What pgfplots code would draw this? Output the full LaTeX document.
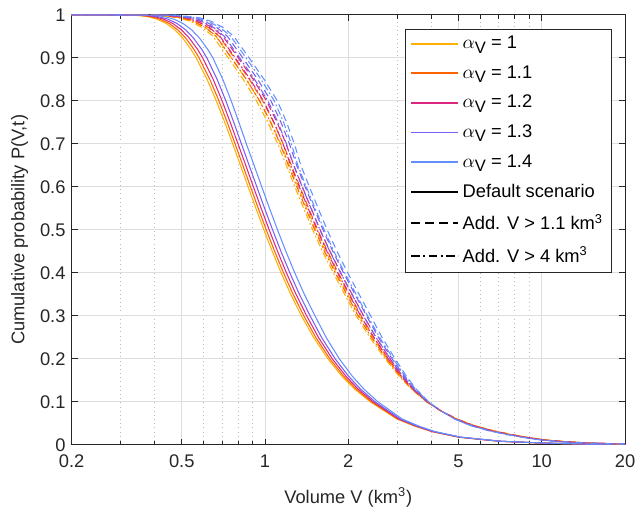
\documentclass[border=0pt]{standalone}
\usepackage{pgfplots}
\pgfplotsset{compat=1.18}
\usepackage{pgfplotstable}
\usepackage{fontspec}
\setmainfont{Liberation Sans}

\definecolor{cA}{HTML}{FFB000}
\definecolor{cB}{HTML}{FE6100}
\definecolor{cC}{HTML}{DC267F}
\definecolor{cD}{HTML}{785EF0}
\definecolor{cE}{HTML}{648FFF}
\definecolor{axgray}{gray}{0.15}
\definecolor{gridgray}{gray}{0.87}

% default scenario (solid); columns: volume for alpha_V = 1, 1.1, 1.2, 1.3, 1.4
\pgfplotstableread{
P       a10     a11     a12     a13     a14
1.0000  0.2     0.2     0.2     0.2     0.2
0.9995  0.3215  0.3295  0.3396  0.3516  0.3697
0.998   0.3534  0.3622  0.3733  0.3865  0.4064
0.995   0.3810  0.3905  0.4024  0.4167  0.4382
0.990   0.4068  0.4170  0.4297  0.4449  0.4678
0.980   0.4393  0.4503  0.4640  0.4805  0.5052
0.965   0.4724  0.4842  0.4990  0.5167  0.5433
0.946   0.5041  0.5167  0.5324  0.5514  0.5797
0.920   0.5396  0.5531  0.5700  0.5902  0.6205
0.900   0.5636  0.5777  0.5953  0.6164  0.6481
0.850   0.6172  0.6316  0.6496  0.6712  0.7036
0.800   0.6668  0.6815  0.6998  0.7218  0.7548
0.750   0.7153  0.7302  0.7488  0.7712  0.8047
0.700   0.7644  0.7797  0.7988  0.8217  0.8561
0.650   0.8152  0.8315  0.8519  0.8763  0.9130
0.600   0.8689  0.8863  0.9080  0.9341  0.9732
0.550   0.9270  0.9455  0.9687  0.9965  1.0382
0.500   0.9908  1.0106  1.0354  1.0651  1.1097
0.450   1.0622  1.0834  1.1100  1.1419  1.1897
0.400   1.1437  1.1666  1.1952  1.2295  1.2809
0.350   1.2390  1.2638  1.2948  1.3319  1.3877
0.300   1.3539  1.3810  1.4148  1.4554  1.5164
0.250   1.4980  1.5256  1.5599  1.6010  1.6628
0.200   1.6879  1.7161  1.7512  1.7934  1.8567
0.160   1.8953  1.9237  1.9594  2.0020  2.0659
0.130   2.1065  2.1347  2.1697  2.2118  2.2750
0.100   2.4017  2.4281  2.4613  2.5009  2.5602
0.079   2.700   2.7248  2.7556  2.7929  2.8485
0.060   3.000   3.0225  3.0507  3.0843  3.135
0.043   3.500   3.5203  3.5459  3.5767  3.6225
0.031   4.000   4.0188  4.042   4.070   4.112
0.018   5.000   5.020   5.045   5.075   5.120
0.0085  7.000   7.023   7.053   7.088   7.140
0.0043  10.00   10.03   10.08   10.13   10.20
0.0022  14.00   14.05   14.11   14.18   14.28
0.0011  20      20      20      20      20
}\solid

% additional V > 1.1 km^3 (dashed)
\pgfplotstableread{
P       a10     a11     a12     a13     a14
1.000   0.2     0.2     0.2     0.2     0.2
0.999   0.420   0.4312  0.4452  0.4620  0.4872
0.993   0.500   0.5134  0.5300  0.5500  0.5800
0.985   0.550   0.5647  0.5830  0.6050  0.6380
0.970   0.610   0.6263  0.6466  0.6710  0.7076
0.950   0.665   0.6828  0.7049  0.7315  0.7714
0.900   0.755   0.7752  0.8003  0.8305  0.8758
0.850   0.855   0.8778  0.9063  0.9405  0.9918
0.800   0.955   0.9805  1.0123  1.0505  1.1078
0.750   1.050   1.0746  1.1051  1.1419  1.1970
0.700   1.140   1.1628  1.1913  1.2255  1.2768
0.650   1.225   1.2455  1.2709  1.3016  1.3475
0.600   1.315   1.3370  1.3643  1.3972  1.4465
0.550   1.415   1.4386  1.4681  1.5034  1.5565
0.500   1.525   1.5505  1.5822  1.6203  1.6775
0.450   1.655   1.6826  1.7171  1.7584  1.8205
0.400   1.810   1.8402  1.8779  1.9231  1.9910
0.350   1.990   2.0232  2.0646  2.1144  2.1890
0.300   2.190   2.2266  2.2721  2.3269  2.4090
0.250   2.440   2.4746  2.5178  2.5696  2.6474
0.200   2.760   2.7923  2.8326  2.8809  2.9532
0.160   3.080   3.1068  3.1401  3.1801  3.2402
0.130   3.400   3.4198  3.4447  3.4745  3.5190
0.100   3.850   3.8596  3.8716  3.8862  3.9078
0.080   4.300   4.300   4.300   4.300   4.300
0.060   4.950   4.9335  4.9129  4.8881  4.8510
0.045   5.700   5.6715  5.6359  5.5931  5.5290
0.033   6.700   6.6553  6.5995  6.5325  6.4320
0.024   7.800   7.748   7.683   7.605   7.488
0.017   9.000   8.940   8.865   8.775   8.640
0.011   10.50   10.430  10.343  10.238  10.080
0.007   12.50   12.417  12.313  12.188  12.000
0.004   15.50   15.396  15.268  15.113  14.880
0.002   20      20      20      20      20
}\addA

% additional V > 4 km^3 (dash-dot)
\pgfplotstableread{
P       a10     a11     a12     a13     a14
1.000   0.2     0.2     0.2     0.2     0.2
0.999   0.4095  0.4204  0.4341  0.4505  0.4750
0.993   0.4875  0.5006  0.5168  0.5363  0.5655
0.985   0.5363  0.5506  0.5684  0.5899  0.6221
0.970   0.5948  0.6106  0.6304  0.6542  0.6899
0.950   0.6484  0.6657  0.6873  0.7132  0.7521
0.900   0.7361  0.7558  0.7803  0.8097  0.8539
0.850   0.8336  0.8559  0.8836  0.9170  0.9670
0.800   0.9311  0.9560  0.9870  1.0242  1.0801
0.750   1.0238  1.0477  1.0775  1.1134  1.1671
0.700   1.1115  1.1337  1.1615  1.1949  1.2449
0.650   1.1944  1.2144  1.2391  1.2691  1.3138
0.600   1.2821  1.3036  1.3302  1.3623  1.4103
0.550   1.3796  1.4026  1.4314  1.4658  1.5176
0.500   1.4869  1.5117  1.5426  1.5798  1.6356
0.450   1.6136  1.6405  1.6742  1.7144  1.7750
0.400   1.7648  1.7942  1.8310  1.8750  1.9412
0.350   1.9403  1.9726  2.0130  2.0615  2.1343
0.300   2.1353  2.1709  2.2153  2.2687  2.3488
0.250   2.3912  2.4251  2.4674  2.5182  2.5945
0.200   2.7186  2.7504  2.7901  2.8377  2.9089
0.160   3.0492  3.0757  3.1087  3.1483  3.2078
0.130   3.3762  3.3959  3.4206  3.4502  3.4944
0.100   3.8346  3.8442  3.8561  3.8707  3.8922
0.080   4.300   4.300   4.300   4.300   4.300
0.060   4.950   4.9335  4.9129  4.8881  4.8510
0.045   5.700   5.6715  5.6359  5.5931  5.5290
0.033   6.700   6.6553  6.5995  6.5325  6.4320
0.024   7.800   7.748   7.683   7.605   7.488
0.017   9.000   8.940   8.865   8.775   8.640
0.011   10.50   10.430  10.343  10.238  10.080
0.007   12.50   12.417  12.313  12.188  12.000
0.004   15.50   15.396  15.268  15.113  14.880
0.002   20      20      20      20      20
}\addB

\begin{document}
\begin{tikzpicture}
\begin{axis}[
    scale only axis,
    width=317.7pt, height=246.9pt,
    xmode=log,
    xmin=0.2, xmax=20, ymin=0, ymax=1,
    xtick={0.2,0.5,1,2,5,10,20},
    xticklabels={0.2,0.5,1,2,5,10,20},
    minor xtick={0.3,0.4,0.6,0.7,0.8,0.9,3,4,6,7,8,9},
    ytick={0,0.1,0.2,0.3,0.4,0.5,0.6,0.7,0.8,0.9,1},
    yticklabels={0,0.1,0.2,0.3,0.4,0.5,0.6,0.7,0.8,0.9,1},
    xmajorgrids, ymajorgrids, xminorgrids,
    major grid style={gridgray, line width=0.5pt},
    minor grid style={gray!55, dotted, line width=0.5pt},
    tick align=inside, tick pos=both,
    major tick length=3.5pt, minor tick length=2.2pt,
    axis line style={axgray, line width=0.5pt},
    every tick/.style={axgray, line width=0.5pt},
    tick label style={text=axgray, font=\fontsize{10.5}{12}\selectfont},
    xticklabel style={yshift=-2pt},
    label style={text=axgray, font=\fontsize{10.5}{12}\selectfont},
    xlabel style={yshift=-4.5pt},
    xlabel={Volume V (km\textsuperscript{3})},
    ylabel={Cumulative probability P(V,t)},
    legend style={at={(1,1)}, anchor=north east, xshift=-7.4pt, yshift=-8pt,
        draw=axgray, line width=0.5pt, fill=white, row sep=4.2pt,
        font=\fontsize{10.5}{12}\selectfont, cells={anchor=west}},
    legend image code/.code={\draw[#1, line width=1pt] (0pt,0pt) -- (27pt,0pt);},
    every axis plot/.append style={line width=0.6pt},
]
\coordinate (o) at (rel axis cs:0,0);

% solid
\addplot[cA, forget plot] table[x=a10, y=P] {\solid};
\addplot[cB, forget plot] table[x=a11, y=P] {\solid};
\addplot[cC, forget plot] table[x=a12, y=P] {\solid};
\addplot[cD, forget plot] table[x=a13, y=P] {\solid};
\addplot[cE, forget plot] table[x=a14, y=P] {\solid};
% dashed
\addplot[cA, dash pattern=on 4pt off 2.5pt, forget plot] table[x=a10, y=P] {\addA};
\addplot[cB, dash pattern=on 4pt off 2.5pt, forget plot] table[x=a11, y=P] {\addA};
\addplot[cC, dash pattern=on 4pt off 2.5pt, forget plot] table[x=a12, y=P] {\addA};
\addplot[cD, dash pattern=on 4pt off 2.5pt, forget plot] table[x=a13, y=P] {\addA};
\addplot[cE, dash pattern=on 4pt off 2.5pt, forget plot] table[x=a14, y=P] {\addA};
% dash-dot
\addplot[cA, dash pattern=on 4pt off 1.5pt on 1pt off 1.5pt, forget plot] table[x=a10, y=P] {\addB};
\addplot[cB, dash pattern=on 4pt off 1.5pt on 1pt off 1.5pt, forget plot] table[x=a11, y=P] {\addB};
\addplot[cC, dash pattern=on 4pt off 1.5pt on 1pt off 1.5pt, forget plot] table[x=a12, y=P] {\addB};
\addplot[cD, dash pattern=on 4pt off 1.5pt on 1pt off 1.5pt, forget plot] table[x=a13, y=P] {\addB};
\addplot[cE, dash pattern=on 4pt off 1.5pt on 1pt off 1.5pt, forget plot] table[x=a14, y=P] {\addB};

\addlegendimage{draw=cA}
\addlegendentry{$\alpha$\raisebox{-0.45ex}{\fontsize{9.5}{10}\selectfont V} = 1}
\addlegendimage{draw=cB}
\addlegendentry{$\alpha$\raisebox{-0.45ex}{\fontsize{9.5}{10}\selectfont V} = 1.1}
\addlegendimage{draw=cC}
\addlegendentry{$\alpha$\raisebox{-0.45ex}{\fontsize{9.5}{10}\selectfont V} = 1.2}
\addlegendimage{draw=cD}
\addlegendentry{$\alpha$\raisebox{-0.45ex}{\fontsize{9.5}{10}\selectfont V} = 1.3}
\addlegendimage{draw=cE}
\addlegendentry{$\alpha$\raisebox{-0.45ex}{\fontsize{9.5}{10}\selectfont V} = 1.4}
\addlegendimage{draw=black}
\addlegendentry{Default scenario}
\addlegendimage{draw=black, dash pattern=on 5pt off 3pt}
\addlegendentry{Add. V > 1.1 km\textsuperscript{3}}
\addlegendimage{draw=black, dash pattern=on 5pt off 2pt on 1pt off 2pt}
\addlegendentry{Add. V > 4 km\textsuperscript{3}}
\end{axis}
\path (o) ++(-41.1pt,-37.7pt) rectangle ++(366.3pt,293.1pt);
\end{tikzpicture}
\end{document}
